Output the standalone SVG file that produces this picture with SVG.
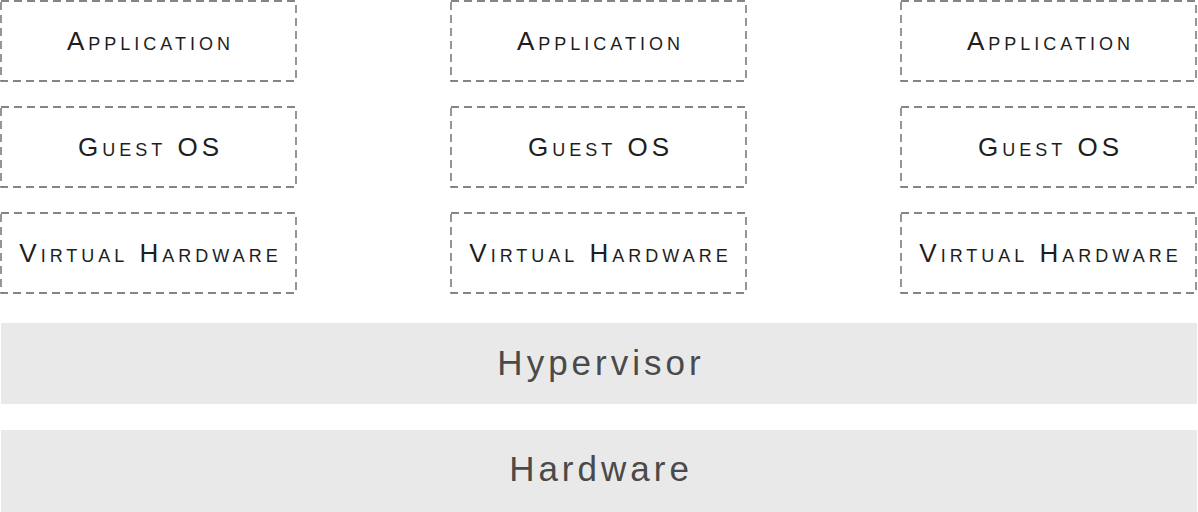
<svg xmlns="http://www.w3.org/2000/svg" width="1198" height="512" viewBox="0 0 1198 512">
<style>
.box{fill:#ffffff;stroke:#5e5e5e;stroke-width:1.3;stroke-dasharray:8 5}
.lbl{font-family:"Liberation Sans",Arial,sans-serif;font-size:26px;font-variant:small-caps;letter-spacing:4px;fill:#1e1e1e;text-anchor:middle;dominant-baseline:central}
.band{fill:#e9e9e9;stroke:none}
.blbl{font-family:"Liberation Sans",Arial,sans-serif;font-size:35px;letter-spacing:4px;fill:#4a4a4a;text-anchor:middle;dominant-baseline:central}
</style>
<g id="vm1">
<g id="vm1-app"><rect class="box" x="1" y="1" width="295" height="80"/><text class="lbl" x="150.5" y="41">Application</text></g>
<g id="vm1-os"><rect class="box" x="1" y="107" width="295" height="80"/><text class="lbl" x="150.5" y="147">Guest OS</text></g>
<g id="vm1-hw"><rect class="box" x="1" y="213" width="295" height="80"/><text class="lbl" x="150.5" y="253">Virtual Hardware</text></g>
</g>
<g id="vm2">
<g id="vm2-app"><rect class="box" x="451" y="1" width="295" height="80"/><text class="lbl" x="600.5" y="41">Application</text></g>
<g id="vm2-os"><rect class="box" x="451" y="107" width="295" height="80"/><text class="lbl" x="600.5" y="147">Guest OS</text></g>
<g id="vm2-hw"><rect class="box" x="451" y="213" width="295" height="80"/><text class="lbl" x="600.5" y="253">Virtual Hardware</text></g>
</g>
<g id="vm3">
<g id="vm3-app"><rect class="box" x="901" y="1" width="295" height="80"/><text class="lbl" x="1050.5" y="41">Application</text></g>
<g id="vm3-os"><rect class="box" x="901" y="107" width="295" height="80"/><text class="lbl" x="1050.5" y="147">Guest OS</text></g>
<g id="vm3-hw"><rect class="box" x="901" y="213" width="295" height="80"/><text class="lbl" x="1050.5" y="253">Virtual Hardware</text></g>
</g>
<g id="hypervisor"><rect class="band" x="1" y="323" width="1196" height="81"/><text class="blbl" x="601" y="362">Hypervisor</text></g>
<g id="hardware"><rect class="band" x="1" y="430" width="1196" height="82"/><text class="blbl" x="601" y="468">Hardware</text></g>
<g id="connectors"></g>
</svg>
